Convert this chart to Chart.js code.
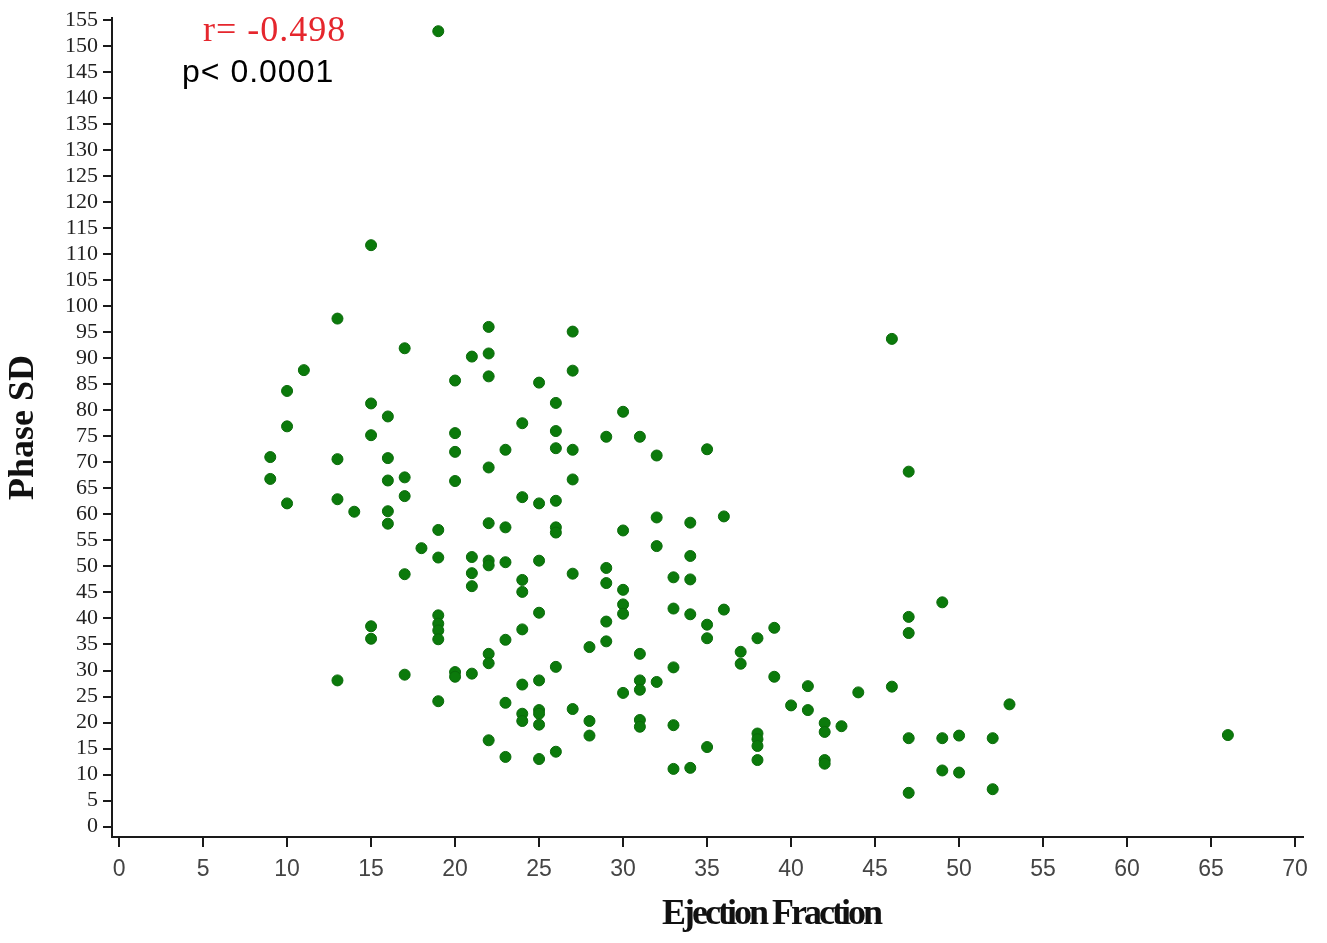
<!DOCTYPE html>
<html>
<head>
<meta charset="utf-8">
<script src="https://cdn.jsdelivr.net/npm/chart.js@4"></script>
<style>
  html, body { margin: 0; padding: 0; background: #fff; }
  #wrap { position: relative; width: 1327px; height: 943px; }
</style>
</head>
<body>
<div id="wrap"><canvas id="chart"></canvas></div>
<script>
// ejection fraction (x) and phase SD (y), one entry per patient
var ejectionFraction = [
  9, 9,
  10, 10, 10,
  11,
  13, 13, 13, 13,
  14,
  15, 15, 15, 15, 15,
  16, 16, 16, 16, 16,
  17, 17, 17, 17, 17,
  18,
  19, 19, 19, 19, 19, 19, 19, 19,
  20, 20, 20, 20, 20, 20,
  21, 21, 21, 21, 21,
  22, 22, 22, 22, 22, 22, 22, 22, 22, 22,
  23, 23, 23, 23, 23, 23,
  24, 24, 24, 24, 24, 24, 24, 24,
  25, 25, 25, 25, 25, 25, 25, 25, 25,
  26, 26, 26, 26, 26, 26, 26, 26,
  27, 27, 27, 27, 27, 27,
  28, 28, 28,
  29, 29, 29, 29, 29,
  30, 30, 30, 30, 30, 30,
  31, 31, 31, 31, 31, 31,
  32, 32, 32, 32,
  33, 33, 33, 33, 33,
  34, 34, 34, 34, 34,
  35, 35, 35, 35,
  36, 36,
  37, 37,
  38, 38, 38, 38, 38,
  39, 39,
  40,
  41, 41,
  42, 42, 42, 42,
  43,
  44,
  46, 46,
  47, 47, 47, 47, 47,
  49, 49, 49,
  50, 50,
  52, 52,
  53,
  66
];
var phaseSD = [
  71.0, 66.8,
  83.7, 76.9, 62.1,
  87.7,
  97.6, 70.6, 62.9, 28.1,
  60.5,
  111.7, 81.3, 75.2, 38.5, 36.1,
  78.8, 70.8, 66.5, 60.6, 58.2,
  91.9, 67.1, 63.5, 48.5, 29.2,
  53.5,
  152.8, 57.0, 51.7, 40.6, 39.0, 37.7, 36.0, 24.1,
  85.7, 75.6, 72.0, 66.4, 29.7, 28.8,
  90.3, 51.8, 48.7, 46.2, 29.4,
  96.0, 90.9, 86.5, 69.0, 58.3, 51.1, 50.2, 33.2, 31.4, 16.6,
  72.4, 57.5, 50.8, 35.9, 23.8, 13.4,
  77.5, 63.3, 47.4, 45.1, 37.9, 27.3, 21.7, 20.3,
  85.3, 62.1, 51.1, 41.1, 28.1, 22.4, 21.7, 19.6, 13.0,
  81.4, 76.0, 72.7, 62.6, 57.5, 56.5, 30.7, 14.4,
  95.1, 87.6, 72.4, 66.7, 48.6, 22.6,
  34.5, 20.3, 17.5,
  74.9, 49.7, 46.8, 39.4, 35.6,
  79.7, 56.9, 45.5, 42.7, 40.9, 25.7,
  74.9, 33.2, 28.1, 26.3, 20.5, 19.2,
  71.3, 59.4, 53.9, 27.8,
  47.9, 41.9, 30.6, 19.5, 11.1,
  58.4, 52.0, 47.5, 40.8, 11.3,
  72.5, 38.8, 36.2, 15.3,
  59.6, 41.7,
  33.6, 31.3,
  36.2, 17.9, 16.8, 15.5, 12.8,
  38.2, 28.8,
  23.3,
  27.0, 22.4,
  19.9, 18.2, 12.8, 12.1,
  19.3,
  25.8,
  93.7, 26.9,
  68.2, 40.3, 37.2, 17.0, 6.5,
  43.1, 17.0, 10.8,
  17.5, 10.4,
  17.0, 7.2,
  23.5,
  17.6
];

var xTicks = [0, 5, 10, 15, 20, 25, 30, 35, 40, 45, 50, 55, 60, 65, 70];
var yTicks = [0, 5, 10, 15, 20, 25, 30, 35, 40, 45, 50, 55, 60, 65, 70, 75,
  80, 85, 90, 95, 100, 105, 110, 115, 120, 125, 130, 135, 140, 145, 150, 155];

var xTitle = 'Ejection Fraction';
var yTitle = 'Phase SD';
var rText = 'r= -0.498';
var pText = 'p< 0.0001';

var points = ejectionFraction.map(function(ef, i){
  return {x: ef, y: phaseSD[i]};
});

// draws x title (offset to the right like the original) and the r / p notes
var notes = {
  id: 'notes',
  afterDraw: function(chart){
    var ctx = chart.ctx;
    var area = chart.chartArea;
    ctx.save();

    ctx.font = 'bold 36px "Liberation Serif"';
    ctx.letterSpacing = '-3px';
    ctx.fillStyle = '#111';
    ctx.textAlign = 'center';
    ctx.textBaseline = 'middle';
    ctx.fillText(xTitle, area.left + 659, 915);

    ctx.textAlign = 'left';
    ctx.font = '36px "Liberation Serif"';
    ctx.letterSpacing = '1px';
    ctx.fillStyle = '#e5262d';
    ctx.fillText(rText, 203, 32);

    ctx.font = '32px "Liberation Sans"';
    ctx.letterSpacing = '1px';
    ctx.fillStyle = '#000';
    ctx.fillText(pText, 182, 73);
    ctx.letterSpacing = '0px';

    ctx.restore();
  }
};

new Chart(document.getElementById('chart'), {
  type: 'scatter',
  data: {
    datasets: [{
      data: points,
      backgroundColor: '#0b7a0b',
      borderColor: '#0a6a0a',
      borderWidth: 1,
      pointRadius: 5.5,
      pointHoverRadius: 5.5
    }]
  },
  options: {
    responsive: true,
    maintainAspectRatio: false,
    animation: false,
    layout: { padding: { top: 0, right: 24, bottom: 0, left: 0 } },
    plugins: {
      legend: { display: false },
      tooltip: { enabled: false }
    },
    scales: {
      x: {
        type: 'linear',
        min: -0.42,
        max: 70.47,
        afterBuildTicks: function(scale){
          scale.ticks = xTicks.map(function(v){ return {value: v}; });
        },
        afterFit: function(scale){ scale.height = 106; },
        border: { display: true, color: '#1a1a1a', width: 2 },
        grid: { drawOnChartArea: false, color: '#1a1a1a', lineWidth: 2, tickLength: 10 },
        ticks: {
          autoSkip: false,
          maxRotation: 0,
          padding: 9,
          color: '#444',
          font: { family: '"Liberation Sans"', size: 23 }
        }
      },
      y: {
        type: 'linear',
        min: -1.98,
        max: 155.3,
        afterBuildTicks: function(scale){
          scale.ticks = yTicks.map(function(v){ return {value: v}; });
        },
        afterFit: function(scale){ scale.width = 112; },
        border: { display: true, color: '#1a1a1a', width: 2 },
        grid: { drawOnChartArea: false, color: '#1a1a1a', lineWidth: 2, tickLength: 9 },
        ticks: {
          autoSkip: false,
          padding: 5,
          color: '#222',
          font: { family: '"Liberation Serif"', size: 22 }
        },
        title: {
          display: true,
          text: yTitle,
          color: '#111',
          padding: { top: 2, bottom: 0 },
          font: { family: '"Liberation Serif"', size: 36, weight: 'bold' }
        }
      }
    }
  },
  plugins: [notes]
});
</script>
</body>
</html>
